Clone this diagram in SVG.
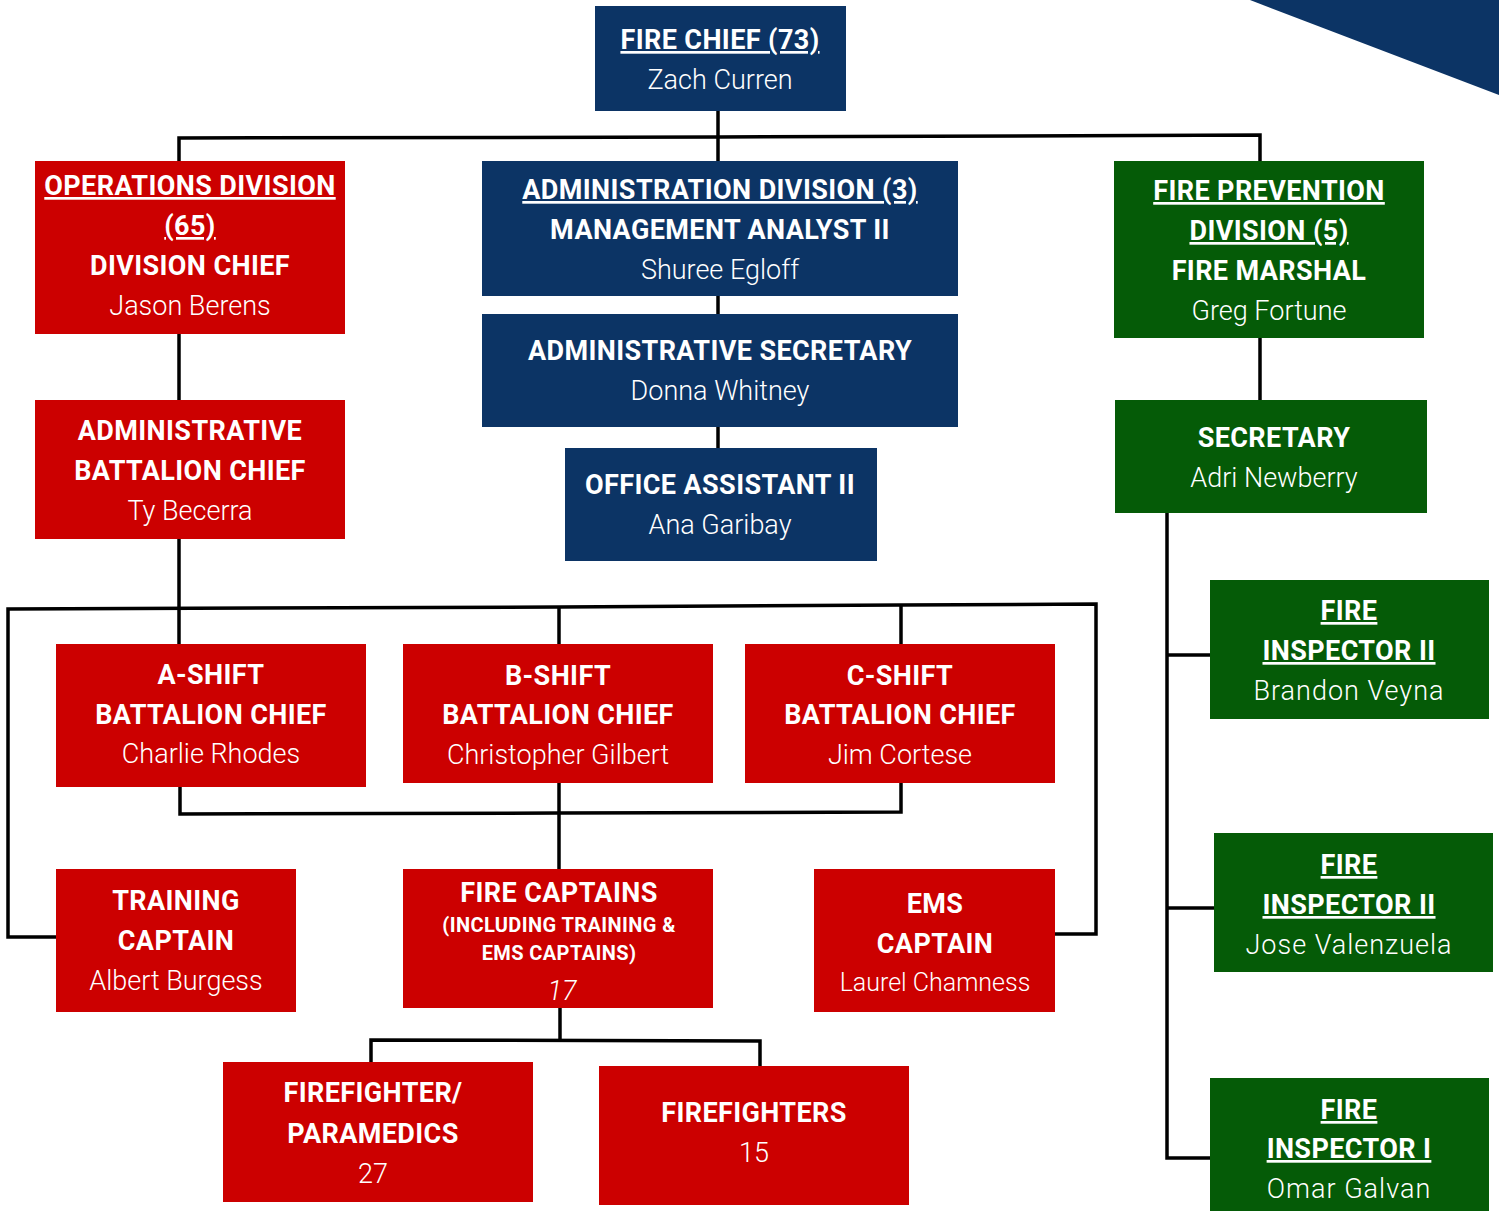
<svg xmlns="http://www.w3.org/2000/svg" width="1499" height="1211" viewBox="0 0 1499 1211">
<style>
.red{fill:#cc0000}
.navy{fill:#0c3465}
.green{fill:#055b07}
text{font-family:Roboto,"Liberation Sans",sans-serif;fill:#fff;text-anchor:middle;font-size:27px}
.b{font-weight:700;letter-spacing:0.4px}
.n{font-weight:300}
.u{text-decoration:underline}
.s{font-size:20px}
.i{font-style:italic}
.w{letter-spacing:1px}
.conn{stroke:#000;stroke-width:3.5;fill:none;stroke-linejoin:miter}
</style>
<rect width="1499" height="1211" fill="#fff"/>
<polygon points="1250,0 1499,0 1499,95" class="navy"/>
<g id="connectors">
<polyline class="conn" points="179,161 179,138 718,137 1260,135 1260,161"/>
<line class="conn" x1="718" y1="111" x2="718" y2="161"/>
<line class="conn" x1="718" y1="296" x2="718" y2="314"/>
<line class="conn" x1="718" y1="427" x2="718" y2="448"/>
<line class="conn" x1="179" y1="334" x2="179" y2="400"/>
<line class="conn" x1="179" y1="539" x2="179" y2="644"/>
<line class="conn" x1="1260" y1="338" x2="1260" y2="400"/>
<polyline class="conn" points="1167,513 1167,1158 1210,1158"/>
<line class="conn" x1="1167" y1="655" x2="1210" y2="655"/>
<line class="conn" x1="1167" y1="908" x2="1214" y2="908"/>
<polyline class="conn" points="56,937 8,937 8,609 559,607 901,605 1096,604 1096,934 1055,934"/>
<line class="conn" x1="559" y1="607" x2="559" y2="644"/>
<line class="conn" x1="901" y1="605" x2="901" y2="644"/>
<polyline class="conn" points="180,787 180,814 559,813 901,812 901,783"/>
<line class="conn" x1="559" y1="783" x2="559" y2="869"/>
<line class="conn" x1="560" y1="1008" x2="560" y2="1040"/>
<polyline class="conn" points="371,1062 371,1040 760,1041 760,1066"/>
</g>
<g id="fire-chief">
<rect x="595" y="6" width="251" height="105" class="navy"/>
<text x="720" y="49" class="b u">FIRE CHIEF (73)</text>
<text x="720" y="89" class="n">Zach Curren</text>
</g>
<g id="operations-division">
<rect x="35" y="161" width="310" height="173" class="red"/>
<text x="190" y="195" class="b u">OPERATIONS DIVISION</text>
<text x="190" y="235" class="b u">(65)</text>
<text x="190" y="275" class="b">DIVISION CHIEF</text>
<text x="190" y="315" class="n">Jason Berens</text>
</g>
<g id="administration-division">
<rect x="482" y="161" width="476" height="135" class="navy"/>
<text x="720" y="199" class="b u">ADMINISTRATION DIVISION (3)</text>
<text x="720" y="239" class="b">MANAGEMENT ANALYST II</text>
<text x="720" y="279" class="n">Shuree Egloff</text>
</g>
<g id="administrative-secretary">
<rect x="482" y="314" width="476" height="113" class="navy"/>
<text x="720" y="360" class="b">ADMINISTRATIVE SECRETARY</text>
<text x="720" y="400" class="n">Donna Whitney</text>
</g>
<g id="office-assistant">
<rect x="565" y="448" width="312" height="113" class="navy"/>
<text x="720" y="494" class="b">OFFICE ASSISTANT II</text>
<text x="720" y="534" class="n">Ana Garibay</text>
</g>
<g id="fire-prevention-division">
<rect x="1114" y="161" width="310" height="177" class="green"/>
<text x="1269" y="200" class="b u">FIRE PREVENTION</text>
<text x="1269" y="240" class="b u">DIVISION (5)</text>
<text x="1269" y="280" class="b">FIRE MARSHAL</text>
<text x="1269" y="320" class="n">Greg Fortune</text>
</g>
<g id="secretary">
<rect x="1115" y="400" width="312" height="113" class="green"/>
<text x="1274" y="447" class="b">SECRETARY</text>
<text x="1274" y="487" class="n">Adri Newberry</text>
</g>
<g id="fire-inspector-veyna">
<rect x="1210" y="580" width="279" height="139" class="green"/>
<text x="1349" y="620" class="b u">FIRE</text>
<text x="1349" y="660" class="b u">INSPECTOR II</text>
<text x="1349" y="700" class="n w">Brandon Veyna</text>
</g>
<g id="fire-inspector-valenzuela">
<rect x="1214" y="833" width="279" height="139" class="green"/>
<text x="1349" y="874" class="b u">FIRE</text>
<text x="1349" y="914" class="b u">INSPECTOR II</text>
<text x="1349" y="954" class="n w">Jose Valenzuela</text>
</g>
<g id="fire-inspector-galvan">
<rect x="1210" y="1078" width="279" height="140" class="green"/>
<text x="1349" y="1119" class="b u">FIRE</text>
<text x="1349" y="1158" class="b u">INSPECTOR I</text>
<text x="1349" y="1198" class="n w">Omar Galvan</text>
</g>
<g id="admin-battalion-chief">
<rect x="35" y="400" width="310" height="139" class="red"/>
<text x="190" y="440" class="b">ADMINISTRATIVE</text>
<text x="190" y="480" class="b">BATTALION CHIEF</text>
<text x="190" y="520" class="n">Ty Becerra</text>
</g>
<g id="a-shift">
<rect x="56" y="644" width="310" height="143" class="red"/>
<text x="211" y="684" class="b">A-SHIFT</text>
<text x="211" y="724" class="b">BATTALION CHIEF</text>
<text x="211" y="763" class="n">Charlie Rhodes</text>
</g>
<g id="b-shift">
<rect x="403" y="644" width="310" height="139" class="red"/>
<text x="558" y="685" class="b">B-SHIFT</text>
<text x="558" y="724" class="b">BATTALION CHIEF</text>
<text x="558" y="764" class="n">Christopher Gilbert</text>
</g>
<g id="c-shift">
<rect x="745" y="644" width="310" height="139" class="red"/>
<text x="900" y="685" class="b">C-SHIFT</text>
<text x="900" y="724" class="b">BATTALION CHIEF</text>
<text x="900" y="764" class="n">Jim Cortese</text>
</g>
<g id="training-captain">
<rect x="56" y="869" width="240" height="143" class="red"/>
<text x="176" y="910" class="b">TRAINING</text>
<text x="176" y="950" class="b">CAPTAIN</text>
<text x="176" y="990" class="n">Albert Burgess</text>
</g>
<g id="fire-captains">
<rect x="403" y="869" width="310" height="139" class="red"/>
<text x="559" y="902" class="b">FIRE CAPTAINS</text>
<text x="559" y="932" class="b s">(INCLUDING TRAINING &amp;</text>
<text x="559" y="960" class="b s">EMS CAPTAINS)</text>
<text x="562" y="1000" class="n i">17</text>
</g>
<g id="ems-captain">
<rect x="814" y="869" width="241" height="143" class="red"/>
<text x="935" y="913" class="b">EMS</text>
<text x="935" y="953" class="b">CAPTAIN</text>
<text x="935" y="991" class="n" style="font-size:25px">Laurel Chamness</text>
</g>
<g id="firefighter-paramedics">
<rect x="223" y="1062" width="310" height="140" class="red"/>
<text x="373" y="1102" class="b">FIREFIGHTER/</text>
<text x="373" y="1143" class="b">PARAMEDICS</text>
<text x="373" y="1183" class="n">27</text>
</g>
<g id="firefighters">
<rect x="599" y="1066" width="310" height="139" class="red"/>
<text x="754" y="1122" class="b">FIREFIGHTERS</text>
<text x="754" y="1162" class="n">15</text>
</g>
</svg>
